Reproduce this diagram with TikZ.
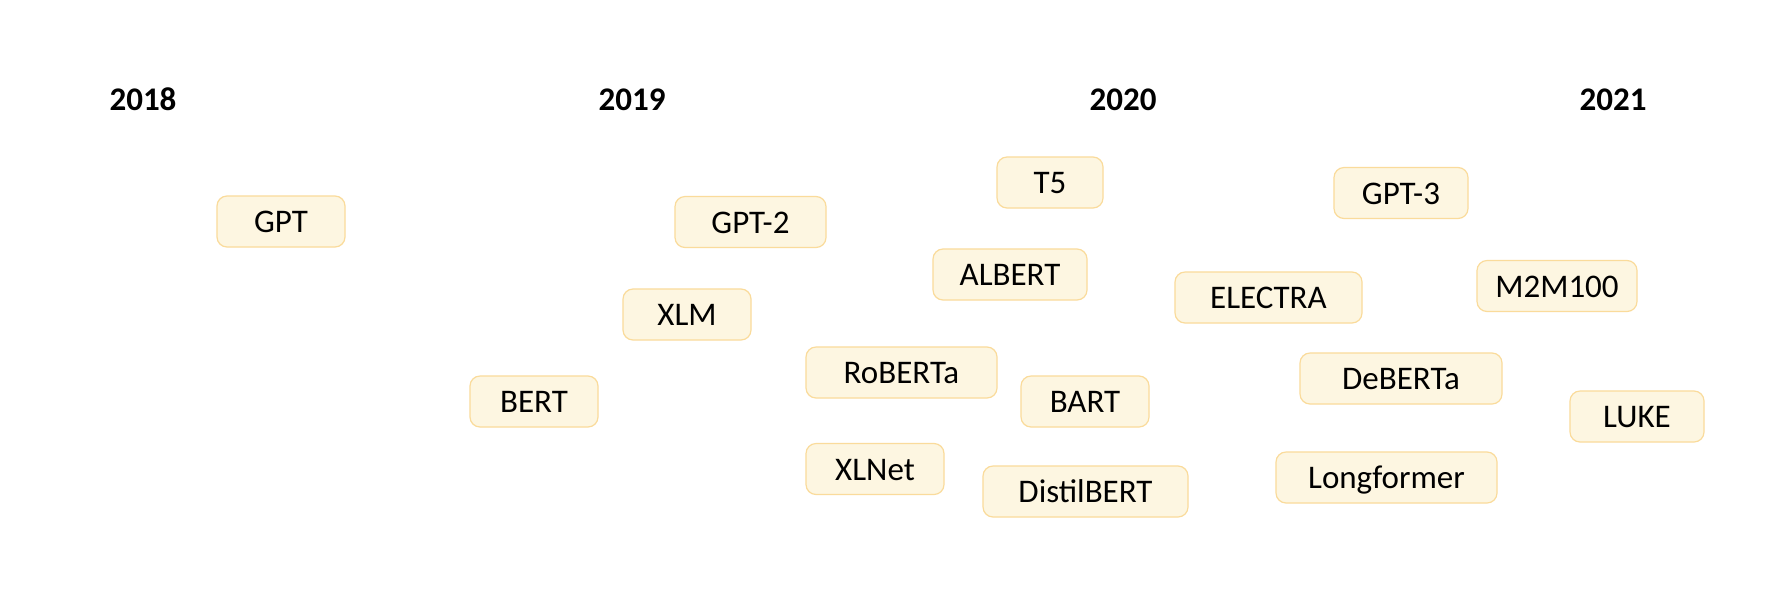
\documentclass[tikz,border=0pt]{standalone}
\usepackage{fontspec}
\setmainfont{Carlito}
\definecolor{boxfill}{RGB}{253,246,225}
\definecolor{boxline}{RGB}{250,219,155}
\tikzset{
  model/.style={draw=boxline, fill=boxfill, line width=1.2pt, rounded corners=10pt,
    minimum height=51pt, inner sep=0pt, text height=22pt, text depth=0pt,
    font=\fontsize{33}{36}\selectfont},
  yearlabel/.style={inner sep=0pt, font=\fontsize{33}{36}\selectfont\bfseries}
}
\begin{document}
\begin{tikzpicture}[x=1pt,y=-1pt]
\useasboundingbox[fill=white] (0,0) rectangle (1776,598);
\node[yearlabel] (y2018) at (143,99.5) {2018};
\node[yearlabel] (y2019) at (632,99.5) {2019};
\node[yearlabel] (y2020) at (1123,99.5) {2020};
\node[yearlabel] (y2021) at (1613,99.5) {2021};
\node[model, minimum width=128pt] (gpt) at (281,221.5) {GPT};
\node[model, minimum width=151pt] (gpt2) at (750.5,222) {GPT-2};
\node[model, minimum width=128pt] (xlm) at (687,314.5) {XLM};
\node[model, minimum width=128pt] (bert) at (534,401.5) {BERT};
\node[model, minimum width=191pt] (roberta) at (901.5,372.5) {RoBERTa};
\node[model, minimum width=138pt] (xlnet) at (875,469) {XLNet};
\node[model, minimum width=106pt] (t5) at (1050,182.5) {T5};
\node[model, minimum width=154pt] (albert) at (1010,274.5) {ALBERT};
\node[model, minimum width=128pt] (bart) at (1085,401.5) {BART};
\node[model, minimum width=205pt] (distilbert) at (1085.5,491.5) {DistilBERT};
\node[model, minimum width=134pt] (gpt3) at (1401,193) {GPT-3};
\node[model, minimum width=187pt] (electra) at (1268.5,297.5) {ELECTRA};
\node[model, minimum width=202pt] (deberta) at (1401,378.5) {DeBERTa};
\node[model, minimum width=221pt] (longformer) at (1386.5,477.5) {Longformer};
\node[model, minimum width=160pt] (m2m) at (1557,286) {M2M100};
\node[model, minimum width=134pt] (luke) at (1637,416.5) {LUKE};
\end{tikzpicture}
\end{document}
